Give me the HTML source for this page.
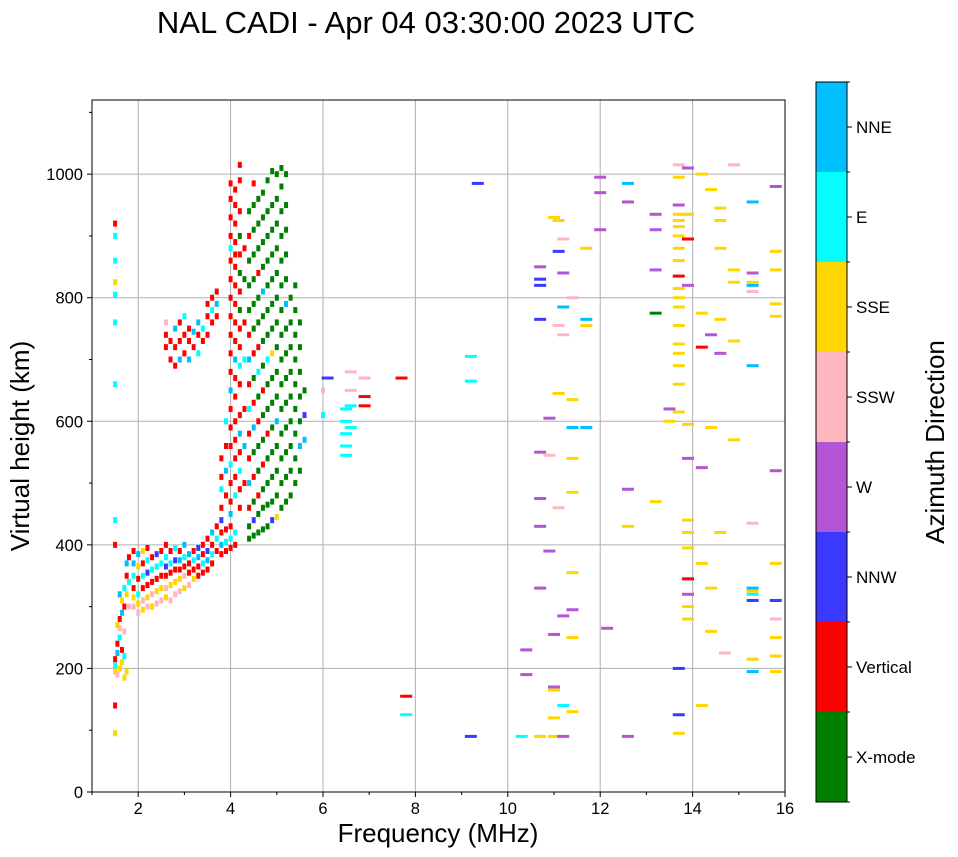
<!DOCTYPE html>
<html><head><meta charset="utf-8">
<style>
body{margin:0;background:#fff;}
svg{display:block;font-family:"Liberation Sans",sans-serif;}
</style></head>
<body>
<svg id="chart" width="958" height="857" viewBox="0 0 958 857">
<text x="426" y="33" font-size="31" text-anchor="middle">NAL CADI - Apr 04 03:30:00 2023 UTC</text>
<g id="grid"></g>
<g id="marks"></g>
<rect x="92" y="100" width="693" height="692" fill="none" stroke="#000" stroke-width="1"/>
<g id="axes"></g>
<text x="438" y="842" font-size="26" text-anchor="middle">Frequency (MHz)</text>
<text transform="translate(29,446) rotate(-90)" font-size="26" text-anchor="middle">Virtual height (km)</text>
<g id="cbar"></g>
<text transform="translate(944,442) rotate(-90)" font-size="26" text-anchor="middle">Azimuth Direction</text>
</svg>
<script>
const directions = ["X-mode","Vertical","NNW","W","SSW","SSE","E","NNE"];
const dirColors = ["#008000","#ff0000","#3a3aff","#b455d6","#ffb6c1","#ffd700","#00ffff","#00bfff"];
const xTicks = [2,4,6,8,10,12,14,16];
const yTicks = [0,200,400,600,800,1000];
// [frequency MHz, virtual height km, direction index]
const points = [
[1.5,195,5],[1.5,205,6],[1.5,215,1],[1.55,190,4],[1.55,225,7],[1.55,240,1],[1.6,200,5],[1.6,250,6],[1.6,265,4],[1.6,280,1],[1.65,210,5],[1.65,230,1],[1.65,290,7],[1.65,310,5],[1.7,185,5],[1.7,260,4],[1.7,300,1],[1.7,330,6],[1.75,320,5],[1.75,350,1],[1.75,370,7],[1.8,300,4],[1.8,340,6],[1.8,380,1],[1.5,140,1],[1.5,95,5],[1.5,400,1],[1.5,440,6],[1.5,660,6],[1.5,760,6],[1.5,805,6],[1.5,825,5],[1.5,860,6],[1.5,900,6],[1.5,920,1],[1.55,270,5],[1.6,320,7],[1.7,220,6],[1.75,195,5],
[1.9,300,4],[1.9,315,5],[1.9,330,1],[1.9,350,6],[1.9,370,7],[1.9,390,1],
[2.0,290,4],[2.0,305,5],[2.0,320,6],[2.0,345,1],[2.0,365,5],[2.0,385,7],
[2.1,295,5],[2.1,310,4],[2.1,330,1],[2.1,350,6],[2.1,370,1],[2.1,390,5],
[2.2,300,4],[2.2,315,5],[2.2,335,1],[2.2,355,2],[2.2,375,6],[2.2,395,1],
[2.3,300,5],[2.3,320,4],[2.3,340,1],[2.3,360,6],[2.3,380,1],
[2.4,305,4],[2.4,325,5],[2.4,345,1],[2.4,365,6],[2.4,385,2],
[2.5,310,4],[2.5,330,5],[2.5,350,1],[2.5,370,6],[2.5,390,1],
[2.6,315,5],[2.6,330,4],[2.6,350,1],[2.6,365,2],[2.6,380,6],[2.6,400,1],
[2.7,310,4],[2.7,335,5],[2.7,355,1],[2.7,370,6],[2.7,390,1],
[2.8,320,4],[2.8,340,5],[2.8,360,1],[2.8,375,2],[2.8,395,6],
[2.9,325,4],[2.9,345,5],[2.9,360,1],[2.9,375,7],[2.9,390,1],
[3.0,330,5],[3.0,350,4],[3.0,365,1],[3.0,380,6],[3.0,400,7],
[3.1,335,4],[3.1,355,1],[3.1,370,1],[3.1,385,7],
[3.2,345,5],[3.2,360,1],[3.2,375,6],[3.2,390,1],
[3.3,350,1],[3.3,365,1],[3.3,380,7],[3.3,395,2],
[3.4,355,1],[3.4,370,6],[3.4,385,1],[3.4,400,1],
[3.5,360,1],[3.5,375,7],[3.5,390,2],[3.5,410,1],
[3.6,370,1],[3.6,385,6],[3.6,400,1],[3.6,420,7],
[3.7,390,1],[3.7,410,6],[3.7,430,1],[3.8,385,1],[3.8,400,7],[3.8,420,1],[3.8,440,2],
[3.9,390,1],[3.9,405,6],[3.9,425,1],[4.0,395,1],[4.0,410,6],[4.0,430,1],[4.0,450,7],[4.1,400,1],[4.1,420,6],
[3.8,460,1],[3.8,490,6],[3.8,510,1],[3.8,540,1],[3.9,480,1],[3.9,520,7],[3.9,560,1],[3.9,600,6],
[4.0,470,1],[4.0,500,1],[4.0,530,6],[4.0,560,1],[4.0,590,1],[4.0,620,1],[4.0,650,7],[4.0,680,1],[4.0,710,1],[4.0,740,1],[4.0,770,1],[4.0,800,1],[4.0,830,1],[4.0,860,1],[4.0,880,6],[4.0,900,1],[4.0,930,1],[4.0,960,1],[4.0,985,1],
[4.1,480,6],[4.1,510,1],[4.1,540,1],[4.1,570,1],[4.1,600,1],[4.1,640,1],[4.1,670,1],[4.1,700,7],[4.1,730,1],[4.1,760,1],[4.1,790,1],[4.1,820,1],[4.1,850,1],[4.1,870,1],[4.1,890,1],[4.1,920,1],[4.1,950,1],[4.1,975,1],
[4.2,460,1],[4.2,490,1],[4.2,520,6],[4.2,550,1],[4.2,580,7],[4.2,610,1],[4.2,660,1],[4.2,690,6],[4.2,720,1],[4.2,750,1],[4.2,780,0],[4.2,810,1],[4.2,840,0],[4.2,870,1],[4.2,900,0],[4.2,940,1],[4.2,990,1],[4.2,1015,1],
[4.3,500,1],[4.3,560,7],[4.3,620,1],[4.3,700,6],[4.3,760,1],[4.3,830,0],[4.3,880,1],
[4.4,410,0],[4.4,430,0],[4.4,460,1],[4.4,500,7],[4.4,540,1],[4.4,580,1],[4.4,620,6],[4.4,660,1],[4.4,700,7],[4.4,740,1],[4.4,780,0],[4.4,820,0],[4.4,860,0],[4.4,900,1],[4.4,940,0],
[4.5,415,0],[4.5,440,2],[4.5,470,0],[4.5,510,1],[4.5,550,0],[4.5,590,7],[4.5,630,1],[4.5,670,0],[4.5,710,1],[4.5,750,0],[4.5,790,0],[4.5,830,0],[4.5,870,0],[4.5,910,0],[4.5,950,0],[4.5,985,1],
[4.6,420,0],[4.6,450,0],[4.6,480,1],[4.6,520,0],[4.6,560,0],[4.6,600,1],[4.6,640,0],[4.6,680,6],[4.6,720,1],[4.6,760,0],[4.6,800,0],[4.6,840,1],[4.6,880,0],[4.6,920,0],[4.6,960,0],
[4.7,425,0],[4.7,460,0],[4.7,490,0],[4.7,530,1],[4.7,570,0],[4.7,610,0],[4.7,650,1],[4.7,690,0],[4.7,730,0],[4.7,770,0],[4.7,810,7],[4.7,850,0],[4.7,890,0],[4.7,930,0],[4.7,970,0],
[4.8,430,0],[4.8,465,0],[4.8,500,0],[4.8,540,0],[4.8,580,1],[4.8,620,0],[4.8,660,0],[4.8,700,6],[4.8,740,0],[4.8,780,0],[4.8,820,0],[4.8,860,0],[4.8,900,0],[4.8,940,0],[4.8,990,0],
[4.9,440,2],[4.9,470,0],[4.9,510,0],[4.9,550,0],[4.9,590,0],[4.9,630,0],[4.9,670,0],[4.9,710,5],[4.9,750,0],[4.9,790,0],[4.9,830,0],[4.9,870,0],[4.9,910,0],[4.9,950,0],[4.9,1005,0],
[5.0,445,5],[5.0,480,0],[5.0,520,0],[5.0,560,0],[5.0,600,7],[5.0,640,0],[5.0,680,0],[5.0,720,0],[5.0,760,0],[5.0,800,0],[5.0,840,0],[5.0,880,0],[5.0,920,0],[5.0,960,0],[5.0,1000,0],
[5.1,460,0],[5.1,500,0],[5.1,540,0],[5.1,580,0],[5.1,620,0],[5.1,660,0],[5.1,700,0],[5.1,740,0],[5.1,780,0],[5.1,820,0],[5.1,860,0],[5.1,900,0],[5.1,940,0],[5.1,980,0],[5.1,1010,0],
[5.2,470,0],[5.2,510,0],[5.2,550,0],[5.2,590,0],[5.2,630,0],[5.2,670,0],[5.2,710,0],[5.2,750,0],[5.2,790,7],[5.2,830,0],[5.2,870,0],[5.2,910,0],[5.2,950,0],[5.2,1000,0],
[5.3,480,0],[5.3,520,0],[5.3,560,0],[5.3,600,0],[5.3,640,0],[5.3,680,0],[5.3,720,0],[5.3,760,0],[5.3,800,0],
[5.4,500,0],[5.4,540,0],[5.4,580,0],[5.4,620,0],[5.4,660,0],[5.4,700,0],[5.4,740,0],[5.4,780,0],[5.4,820,0],
[5.5,520,0],[5.5,560,7],[5.5,600,0],[5.5,640,0],[5.5,680,0],[5.5,720,0],[5.5,760,0],[5.6,570,7],[5.6,610,2],[5.6,650,0],
[2.6,720,1],[2.6,740,1],[2.6,760,4],[2.7,700,1],[2.7,730,1],[2.8,690,1],[2.8,720,1],[2.8,750,7],[2.9,700,7],[2.9,730,1],[2.9,760,1],[3.0,710,1],[3.0,740,1],[3.0,770,6],[3.1,700,7],[3.1,730,1],[3.1,750,1],[3.2,720,1],[3.2,745,7],[3.3,710,6],[3.3,740,1],[3.3,760,7],[3.4,730,1],[3.4,750,6],[3.5,740,1],[3.5,770,1],[3.5,790,1],[3.6,760,1],[3.6,780,6],[3.6,800,1],[3.7,770,1],[3.7,790,7],[3.7,810,1],
[6.0,610,6],[6.0,650,4],[6.1,670,2],[6.5,545,6],[6.5,560,6],[6.5,580,6],[6.5,600,6],[6.5,620,6],[6.6,590,6],[6.6,625,6],[6.6,650,4],[6.6,680,4],[6.9,625,1],[6.9,640,1],[6.9,670,4],[7.7,670,1],[7.8,155,1],[7.8,125,6],
[9.2,90,2],[9.2,665,6],[9.2,705,6],[9.35,985,2],[10.3,90,6],[10.4,190,3],[10.4,230,3],[10.7,90,5],[10.7,330,3],[10.7,430,3],[10.7,475,3],[10.7,550,3],[10.7,765,2],[10.7,820,2],[10.7,830,2],[10.7,850,3],[10.9,390,3],[10.9,545,4],[10.9,605,3],
[11.0,90,5],[11.0,120,5],[11.0,165,5],[11.0,170,3],[11.0,255,3],[11.0,930,5],[11.1,460,4],[11.1,645,5],[11.1,755,4],[11.1,875,2],[11.1,925,5],[11.2,90,3],[11.2,140,6],[11.2,285,3],[11.2,740,4],[11.2,785,7],[11.2,840,3],[11.2,895,4],
[11.4,130,5],[11.4,250,5],[11.4,295,3],[11.4,355,5],[11.4,485,5],[11.4,540,5],[11.4,590,7],[11.4,635,5],[11.4,800,4],[11.7,590,7],[11.7,755,5],[11.7,765,7],[11.7,880,5],[12.0,910,3],[12.0,970,3],[12.0,995,3],[12.15,265,3],
[12.6,90,3],[12.6,430,5],[12.6,490,3],[12.6,955,3],[12.6,985,7],[13.2,470,5],[13.2,775,0],[13.2,845,3],[13.2,910,3],[13.2,935,3],[13.5,600,5],[13.5,620,3],
[13.7,95,5],[13.7,125,2],[13.7,200,2],[13.7,615,5],[13.7,660,5],[13.7,690,5],[13.7,710,5],[13.7,725,5],[13.7,755,5],[13.7,785,5],[13.7,800,5],[13.7,815,5],[13.7,835,1],[13.7,860,5],[13.7,880,5],[13.7,900,5],[13.7,915,5],[13.7,925,5],[13.7,935,5],[13.7,950,3],[13.7,995,5],[13.7,1015,4],
[13.9,280,5],[13.9,300,5],[13.9,320,3],[13.9,345,1],[13.9,395,5],[13.9,420,5],[13.9,440,5],[13.9,540,3],[13.9,595,5],[13.9,820,3],[13.9,895,1],[13.9,935,5],[13.9,1010,3],
[14.2,140,5],[14.2,370,5],[14.2,525,3],[14.2,720,1],[14.2,775,5],[14.2,1000,5],[14.4,260,5],[14.4,330,5],[14.4,590,5],[14.4,740,3],[14.4,975,5],[14.6,710,3],[14.6,765,5],[14.6,880,5],[14.6,925,5],[14.6,945,5],[14.7,225,4],[14.6,420,5],
[14.9,570,5],[14.9,730,5],[14.9,825,5],[14.9,845,5],[14.9,1015,4],
[15.3,195,7],[15.3,215,5],[15.3,310,2],[15.3,320,6],[15.3,325,5],[15.3,330,7],[15.3,435,4],[15.3,690,7],[15.3,810,4],[15.3,820,7],[15.3,825,5],[15.3,840,3],[15.3,955,7],
[15.8,195,5],[15.8,220,5],[15.8,250,5],[15.8,280,4],[15.8,310,2],[15.8,370,5],[15.8,520,3],[15.8,770,5],[15.8,790,5],[15.8,845,5],[15.8,875,5],[15.8,980,3]
];
const NS="http://www.w3.org/2000/svg";
const X0=92,X1=785,Y0=792,Y1=100;
const xMin=1,xMax=16,yMin=0,yMax=1120;
function xs(f){return X0+(f-xMin)/(xMax-xMin)*(X1-X0);}
function ys(h){return Y0-(h-yMin)/(yMax-yMin)*(Y0-Y1);}
function mk(tag,attrs,parent){const e=document.createElementNS(NS,tag);for(const k in attrs)e.setAttribute(k,attrs[k]);parent.appendChild(e);return e;}
const grid=document.getElementById('grid'),axes=document.getElementById('axes'),marks=document.getElementById('marks'),cbar=document.getElementById('cbar');
xTicks.forEach(t=>{
  const x=xs(t);
  const g=mk('line',{x1:x,x2:x,y1:Y1,y2:Y0,stroke:'#b0b0b0','stroke-width':1},grid);
  
  
  mk('line',{x1:x,x2:x,y1:Y0,y2:Y0+5,stroke:'#000'},axes);
  const tx=mk('text',{x:x,y:Y0+22,'font-size':16.5,'text-anchor':'middle'},axes);
  tx.textContent=t;
  
  
});
for(let t=1;t<=15;t+=2){mk('line',{x1:xs(t),x2:xs(t),y1:Y0,y2:Y0+3,stroke:'#000'},axes);}
yTicks.forEach(t=>{
  const y=ys(t);
  const g=mk('line',{x1:X0,x2:X1,y1:y,y2:y,stroke:'#b0b0b0','stroke-width':1},grid);
  
  
  mk('line',{x1:X0-5,x2:X0,y1:y,y2:y,stroke:'#000'},axes);
  const tx=mk('text',{x:X0-9,y:y+6,'font-size':16.5,'text-anchor':'end'},axes);
  tx.textContent=t;
  
  
});
for(let t=100;t<=1100;t+=100){if(t%200)mk('line',{x1:X0-3,x2:X0,y1:ys(t),y2:ys(t),stroke:'#000'},axes);}
points.forEach(p=>{
  const [f,h,d]=p;
  const wide=f>6;
  const w=wide?12:4, ht=wide?3:6;
  const r=mk('rect',{x:xs(f)-w/2,y:ys(h)-ht/2,width:w,height:ht,fill:dirColors[d]},marks);
  
  
});
const CB0=802,CB1=82,segH=(CB0-CB1)/directions.length;
directions.forEach((name,i)=>{
  const y=CB0-(i+1)*segH;
  const r=mk('rect',{x:816,y:y,width:31,height:segH,fill:dirColors[i]},cbar);
  
  
  mk('line',{x1:847,x2:852,y1:y+segH/2,y2:y+segH/2,stroke:'#000'},cbar);
  const tx=mk('text',{x:856,y:y+segH/2+6,'font-size':17},cbar);
  tx.textContent=name;
  
  
});
for(let i=0;i<=directions.length;i++){mk('line',{x1:847,x2:850,y1:CB0-i*segH,y2:CB0-i*segH,stroke:'#000'},cbar);}
mk('rect',{x:816,y:CB1,width:31,height:CB0-CB1,fill:'none',stroke:'#000'},cbar);
</script>
</body></html>
